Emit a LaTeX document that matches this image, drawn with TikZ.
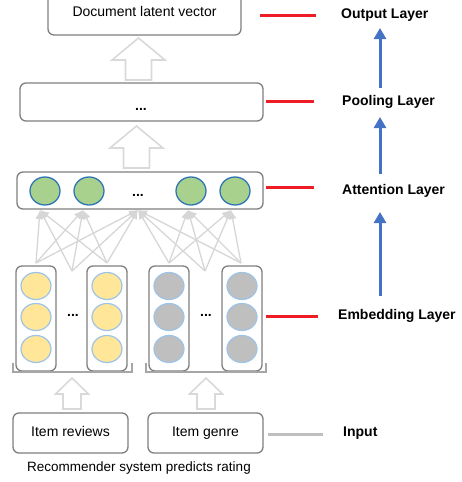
\documentclass[tikz,border=0pt]{standalone}
\usepackage{fontspec}
\setmainfont{Liberation Sans}
\usetikzlibrary{arrows.meta,shapes.geometric}
\definecolor{boxgray}{HTML}{7F7F7F}
\definecolor{hollowgray}{HTML}{D9D9D9}
\definecolor{linkgray}{HTML}{D6D6D6}
\definecolor{brackgray}{HTML}{A6A6A6}
\definecolor{inputgray}{HTML}{BFBFBF}
\definecolor{layerred}{HTML}{EE1C25}
\definecolor{arrowblue}{HTML}{4472C4}
\definecolor{yellowfill}{HTML}{FFE699}
\definecolor{lightblue}{HTML}{9DC3E6}
\definecolor{grayfill}{HTML}{BFBFBF}
\definecolor{greenfill}{HTML}{A9D18E}
\definecolor{darkblue}{HTML}{2E75B6}
\newcommand\hollowup[6]{%
  \draw[hollow] (#1-#6,#4) -- (#1-#6,#3) -- (#1-#5,#3) -- (#1,#2) -- (#1+#5,#3) -- (#1+#6,#3) -- (#1+#6,#4) -- cycle;}
\begin{document}
\begin{tikzpicture}[x=1pt,y=-1pt,
  box/.style={draw=boxgray, line width=1.3pt, rounded corners=6pt, fill=white, inner sep=0pt},
  txt/.style={font=\fontsize{14}{16}\selectfont, text height=10pt, text depth=3pt},
  lbl/.style={font=\fontsize{14}{16}\selectfont\bfseries, anchor=west, inner sep=0pt},
  dots/.style={font=\fontsize{14}{16}\selectfont\bfseries, inner sep=0pt},
  hollow/.style={draw=hollowgray, line width=1.6pt, fill=white, line join=miter},
  yel/.style={ellipse, draw=lightblue, line width=1.2pt, fill=yellowfill, minimum width=30pt, minimum height=27pt, inner sep=0pt},
  gry/.style={ellipse, draw=lightblue, line width=1.2pt, fill=grayfill, minimum width=30pt, minimum height=27pt, inner sep=0pt},
  grn/.style={ellipse, draw=darkblue, line width=1.3pt, fill=greenfill, minimum width=30pt, minimum height=28pt, inner sep=0pt},
  link/.style={draw=linkgray, line width=1.3pt, -{Latex[length=9pt,width=8pt]}},
  bracket/.style={draw=brackgray, line width=1.4pt},
  redline/.style={draw=layerred, line width=3pt},
  bluearr/.style={draw=arrowblue, line width=3pt, -{Triangle[length=11pt,width=12pt]}}
]
\useasboundingbox (0,0) rectangle (461,482);

% output box
\node[box, txt, minimum width=193pt, minimum height=44pt] (doc) at (144.5,13) {Document latent vector};
\hollowup{138.5}{38}{60}{80}{26.5}{13}
% pooling box
\node[box, minimum width=243pt, minimum height=38pt] (pool) at (141.5,102) {};
\node[dots] (pooldots) at (141,109) {...};
\hollowup{136.5}{126}{148}{168}{26.5}{13}
% attention box
\node[box, minimum width=246pt, minimum height=37pt] (att) at (140,190.5) {};
\node[grn] (g1) at (45,191) {};
\node[grn] (g2) at (89,191) {};
\node[dots] (attdots) at (138,195) {...};
\node[grn] (g3) at (191,191) {};
\node[grn] (g4) at (235,191) {};

% embedding columns
\foreach \n/\cx in {c1/36,c2/107,c3/169,c4/242}{
  \node[box, minimum width=40pt, minimum height=105pt] (\n) at (\cx,318.5) {};
}
\foreach \n/\cx in {c1/36,c2/107}{
  \node[yel] (\n a) at (\cx,286) {};
  \node[yel] (\n b) at (\cx,317) {};
  \node[yel] (\n c) at (\cx,349) {};
}
\foreach \n/\cx in {c3/169,c4/242}{
  \node[gry] (\n a) at (\cx,286) {};
  \node[gry] (\n b) at (\cx,317) {};
  \node[gry] (\n c) at (\cx,349) {};
}
\node[dots] (edots1) at (73,315) {...};
\node[dots] (edots2) at (206,315) {...};

% connections
\coordinate (s1) at (36,263);
\coordinate (s2) at (72,271);
\coordinate (s3) at (107,263);
\coordinate (s4) at (169,263);
\coordinate (s5) at (205,271);
\coordinate (s6) at (241,263);
\coordinate (t1) at (40,210);
\coordinate (t2) at (83,210);
\coordinate (t3) at (138,210);
\coordinate (t4) at (188,210);
\coordinate (t5) at (231,210);
\foreach \s in {s1,s2,s3}{\foreach \t in {t1,t2,t3}{\draw[link] (\s) -- (\t);}}
\foreach \s in {s4,s5,s6}{\foreach \t in {t3,t4,t5}{\draw[link] (\s) -- (\t);}}

% brackets
\draw[bracket] (13,363) -- (13,372) -- (132,372) -- (132,363);
\draw[bracket] (146,363) -- (146,372) -- (266,372) -- (266,363);

% input arrows
\hollowup{72}{378}{394}{409}{16.5}{9}
\hollowup{206}{378}{394}{409}{16.5}{9}

% inputs
\node[box, txt, minimum width=115pt, minimum height=40pt] (rev) at (70.5,433) {Item reviews};
\node[box, txt, minimum width=115pt, minimum height=40pt] (genre) at (205.5,433) {Item genre};
\node[font=\fontsize{13.5}{16}\selectfont] (cap) at (139,468) {Recommender system predicts rating};

% right side labels
\node[lbl] (lout) at (341,15) {Output Layer};
\node[lbl] (lpool) at (342,102) {Pooling Layer};
\node[lbl] (latt) at (342,191) {Attention Layer};
\node[lbl] (lemb) at (338,316) {Embedding Layer};
\node[lbl] (lin) at (343,433) {Input};

\coordinate (r0a) at (260,15);  \coordinate (r0b) at (316,15);
\coordinate (r1a) at (266,101); \coordinate (r1b) at (314,101);
\coordinate (r2a) at (266,187); \coordinate (r2b) at (314,187);
\coordinate (r3a) at (266,316); \coordinate (r3b) at (318,316);
\coordinate (r4a) at (268,434); \coordinate (r4b) at (323,434);
\draw[redline] (r0a) -- (r0b);
\draw[redline] (r1a) -- (r1b);
\draw[redline] (r2a) -- (r2b);
\draw[redline] (r3a) -- (r3b);
\draw[draw=inputgray, line width=3pt] (r4a) -- (r4b);

% blue arrows
\coordinate (b1s) at (380,88);  \coordinate (b1e) at (380,28);
\coordinate (b2s) at (380,174); \coordinate (b2e) at (380,117);
\coordinate (b3s) at (380,296); \coordinate (b3e) at (380,212);
\draw[bluearr] (b1s) -- (b1e);
\draw[bluearr] (b2s) -- (b2e);
\draw[bluearr] (b3s) -- (b3e);
\end{tikzpicture}
\end{document}
